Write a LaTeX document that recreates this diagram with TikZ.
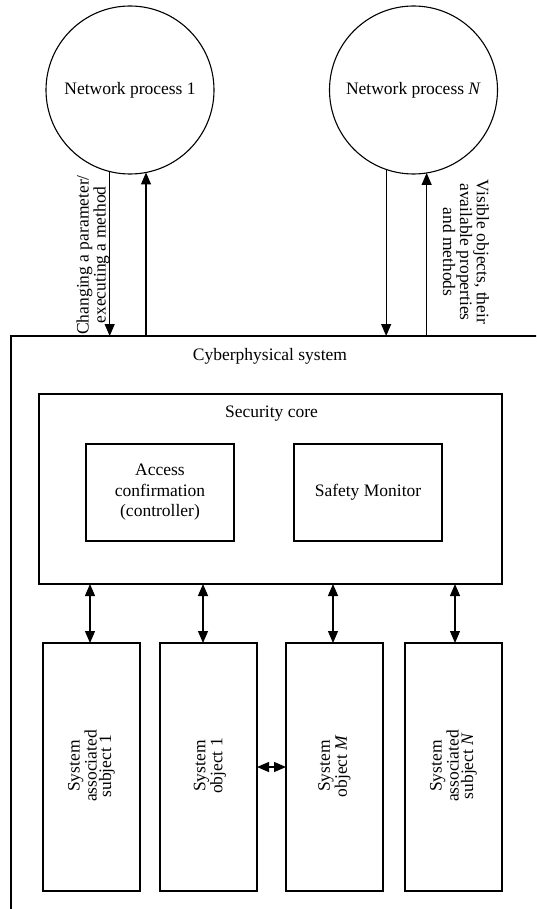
\documentclass[tikz,border=0pt]{standalone}
\usepackage{fontspec}
\setmainfont{Liberation Serif}
\usetikzlibrary{arrows.meta}
\tikzset{
  box/.style={draw, line width=1.3pt, inner sep=0pt, outer sep=0pt},
  proc/.style={draw, circle, line width=1.1pt, minimum size=168pt, inner sep=0pt, outer sep=0pt, font=\fontsize{17.5}{20}\selectfont},
  lbl/.style={inner sep=0pt, align=center, font=\fontsize{17.5}{20.5}\selectfont},
  vlbl/.style={inner sep=0pt, align=center, font=\fontsize{17.5}{14.5}\selectfont},
  arr/.style={line width=1.2pt, -{Triangle[length=12pt,width=10pt]}},
  darr/.style={line width=1.2pt, {Triangle[length=12pt,width=10pt]}-{Triangle[length=12pt,width=10pt]}},
}
\begin{document}
\begin{tikzpicture}[x=1pt,y=-1pt]
\clip (0,0) rectangle (536,909);
\useasboundingbox (0,0) rectangle (536,909);
% network processes
\node[proc] (c1) at (130,90) {Network process 1};
\node[proc] (cN) at (413.5,90) {Network process \textit{N}};
% cyberphysical system
\node[box, anchor=north west, minimum width=560pt, minimum height=600pt] (sys) at (11,336) {};
\node[lbl] (syslbl) at (270,356) {Cyberphysical system};
% security core
\node[box, minimum width=463pt, minimum height=190pt] (core) at (270.5,489) {};
\node[lbl] (corelbl) at (271.5,414) {Security core};
\node[box, lbl, minimum width=148pt, minimum height=97pt] (acc) at (160,492.5) {Access\\confirmation\\(controller)};
\node[box, lbl, minimum width=148pt, minimum height=97pt] (saf) at (368,492.5) {Safety Monitor};
% bottom boxes
\node[box, minimum width=97pt, minimum height=248pt] (b1) at (91.5,767) {};
\node[box, minimum width=97pt, minimum height=248pt] (b2) at (208.5,767) {};
\node[box, minimum width=97pt, minimum height=248pt] (b3) at (334.5,767) {};
\node[box, minimum width=97pt, minimum height=248pt] (b4) at (453.5,767) {};
\node[vlbl, rotate=90] (t1) at (91.5,766) {System\\associated\\subject 1};
\node[vlbl, rotate=90] (t2) at (210,766) {System\\object 1};
\node[vlbl, rotate=90] (t3) at (334.5,766) {System\\object \textit{M}};
\node[vlbl, rotate=90] (t4) at (453.5,766) {System\\associated\\subject \textit{N}};
% arrows between processes and system
\draw[arr] (c1.256.9) -- (c1.256.9 |- sys.north);
\draw[arr] (c1.281.7 |- sys.north) -- (c1.281.7);
\draw[arr] (cN.251.6) -- (cN.251.6 |- sys.north);
\draw[arr] (cN.279.25 |- sys.north) -- (cN.279.25);
\node[vlbl, rotate=90, font=\fontsize{17.5}{15.5}\selectfont] (lblL) at (93,255) {Changing a parameter/\\executing a method};
\node[vlbl, rotate=-90] (lblR) at (466,252) {Visible objects, their\\available properties\\and methods};
% core <-> bottom boxes
\draw[darr] ([xshift=-1.5pt]b1.north |- core.south) -- ([xshift=-1.5pt]b1.north);
\draw[darr] ([xshift=-5.5pt]b2.north |- core.south) -- ([xshift=-5.5pt]b2.north);
\draw[darr] ([xshift=-1.5pt]b3.north |- core.south) -- ([xshift=-1.5pt]b3.north);
\draw[darr] ([xshift=1.5pt]b4.north |- core.south) -- ([xshift=1.5pt]b4.north);
% object 1 <-> object M
\draw[darr] (b2.east) -- (b3.west);
\end{tikzpicture}
\end{document}
